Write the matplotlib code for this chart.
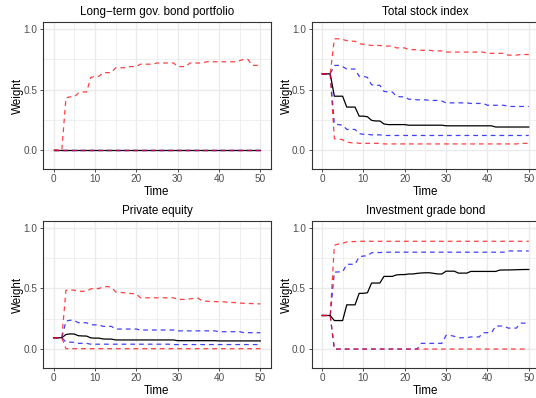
import numpy as np
import matplotlib
matplotlib.use('Agg')
import matplotlib.pyplot as plt

plt.rcParams['font.family'] = ['Liberation Sans', 'DejaVu Sans']

time = np.arange(51)

titles = ['Long\u2212term gov. bond portfolio', 'Total stock index',
          'Private equity', 'Investment grade bond']

# long-term gov. bond portfolio
gov_median = [0.0] * 51
gov_blue_lo = [0.0] * 51
gov_blue_hi = [0.0] * 51
gov_red_lo = [0.0] * 51
gov_red_hi = ([0.0] * 3 + [0.43, 0.44, 0.44] + [0.47, 0.48, 0.48] + [0.60, 0.61, 0.61]
              + [0.64] * 3 + [0.68, 0.68, 0.68, 0.69, 0.69, 0.69]
              + [0.71, 0.71, 0.71, 0.71, 0.72, 0.72, 0.72, 0.72, 0.72] + [0.69] * 3
              + [0.72] * 4 + [0.73] * 8 + [0.74, 0.75, 0.75] + [0.70] * 3)

# total stock index
stock_median = ([0.63] * 3 + [0.445] * 3 + [0.355] * 3 + [0.28, 0.28, 0.275]
                + [0.245, 0.24, 0.24] + [0.215, 0.21, 0.21, 0.21, 0.21, 0.21]
                + [0.205] * 9 + [0.2] * 12 + [0.19] * 9)
stock_blue_hi = ([0.63] * 3 + [0.70, 0.70, 0.69] + [0.67] * 3 + [0.61, 0.61, 0.60]
                 + [0.54, 0.535, 0.535] + [0.485, 0.48, 0.48] + [0.445, 0.44, 0.44]
                 + [0.42, 0.42, 0.415, 0.415, 0.415, 0.41, 0.41, 0.41, 0.405]
                 + [0.39] * 6 + [0.385] * 4 + [0.37] * 5 + [0.36] * 6)
stock_blue_lo = ([0.63] * 3 + [0.215, 0.21, 0.205] + [0.17] * 3
                 + [0.135, 0.13, 0.13, 0.125, 0.125, 0.125] + [0.12] * 36)
stock_red_hi = ([0.63] * 3 + [0.92, 0.92, 0.915] + [0.905, 0.9, 0.9]
                + [0.88, 0.875, 0.87, 0.865, 0.865, 0.865] + [0.86] * 3 + [0.845] * 3
                + [0.83, 0.83, 0.83, 0.825, 0.825, 0.825, 0.82, 0.82, 0.82]
                + [0.81] * 10 + [0.8] * 5 + [0.785] * 3 + [0.79] * 3)
stock_red_lo = ([0.63] * 3 + [0.093, 0.09, 0.085] + [0.065, 0.06, 0.06]
                + [0.055] * 6 + [0.05] * 33 + [0.055] * 3)

# private equity
pe_median = ([0.093] * 3 + [0.12, 0.125, 0.124] + [0.11, 0.108, 0.107]
             + [0.092, 0.09, 0.09] + [0.083, 0.082, 0.082] + [0.075] * 15
             + [0.069] * 10 + [0.067] * 11)
pe_blue_hi = ([0.093] * 3 + [0.23, 0.238, 0.236] + [0.217] * 3 + [0.2] * 3
              + [0.187] * 3 + [0.165] * 6 + [0.157] * 9 + [0.15] * 10
              + [0.143] * 6 + [0.135] * 5)
pe_blue_lo = ([0.093] * 3 + [0.058, 0.057, 0.055] + [0.047] * 3
              + [0.04] * 20 + [0.037] * 22)
pe_red_hi = ([0.093] * 3 + [0.485, 0.488, 0.486] + [0.478, 0.476, 0.478]
             + [0.497, 0.5, 0.5] + [0.514, 0.516, 0.51] + [0.472, 0.468, 0.465]
             + [0.46, 0.458, 0.455] + [0.423] * 9 + [0.41] * 3 + [0.415, 0.418, 0.42]
             + [0.395, 0.395, 0.393, 0.392, 0.39, 0.39, 0.388, 0.385, 0.383]
             + [0.38, 0.378, 0.377, 0.375, 0.374, 0.373])
pe_red_lo = [0.093] * 3 + [0.003] * 48

# investment grade bond
ig_median = ([0.277] * 3 + [0.235] * 3 + [0.365] * 3 + [0.46, 0.46, 0.465]
             + [0.545] * 3 + [0.6] * 3 + [0.612, 0.615, 0.615]
             + [0.62, 0.62, 0.625, 0.628, 0.63, 0.63, 0.625, 0.62, 0.62]
             + [0.643] * 3 + [0.627] * 3 + [0.641] * 7
             + [0.652, 0.653, 0.653, 0.654, 0.655, 0.656, 0.657, 0.657])
ig_blue_hi = ([0.277] * 3 + [0.635, 0.637, 0.637] + [0.7] * 3 + [0.762, 0.768, 0.77]
              + [0.795, 0.797, 0.797] + [0.8] * 30 + [0.81] * 6)
ig_blue_lo = ([0.277] * 3 + [0.0] * 21 + [0.047] * 6 + [0.113, 0.113, 0.105]
              + [0.093] * 3 + [0.1] * 3 + [0.135] * 3 + [0.19] * 3
              + [0.173] * 3 + [0.214] * 3)
ig_red_hi = ([0.277] * 3 + [0.857, 0.868, 0.873] + [0.885, 0.887, 0.888]
             + [0.89] * 42)
ig_red_lo = [0.277] * 3 + [0.0] * 48

medians = [gov_median, stock_median, pe_median, ig_median]
blue_lo = [gov_blue_lo, stock_blue_lo, pe_blue_lo, ig_blue_lo]
blue_hi = [gov_blue_hi, stock_blue_hi, pe_blue_hi, ig_blue_hi]
red_lo = [gov_red_lo, stock_red_lo, pe_red_lo, ig_red_lo]
red_hi = [gov_red_hi, stock_red_hi, pe_red_hi, ig_red_hi]

W, H = 536, 398
fig = plt.figure(figsize=(W / 100, H / 100), dpi=100)

# panel boxes in pixels: left, top, right, bottom
boxes = [(43.2, 22.5, 270.7, 168.7), (311.6, 22.5, 539.1, 168.7),
         (43.2, 221.3, 270.7, 367.8), (311.6, 221.3, 539.1, 367.8)]

grey20 = '#333333'
grey30 = '#4D4D4D'
grey92 = '#EBEBEB'
dash = (0, (3.8, 3.2))

for i in range(4):
    l, t, r, b = boxes[i]
    ax = fig.add_axes([l / W, (H - b) / H, (r - l) / W, (b - t) / H])
    ax.set_xlim(-2.5, 52.5)
    ax.set_ylim(-0.155, 1.055)
    ax.set_xticks([0, 10, 20, 30, 40, 50])
    ax.set_xticks([5, 15, 25, 35, 45], minor=True)
    ax.set_yticks([0.0, 0.5, 1.0])
    ax.set_yticklabels(['0.0', '0.5', '1.0'])
    ax.set_yticks([0.25, 0.75], minor=True)
    ax.grid(which='major', color=grey92, linewidth=1.0)
    ax.grid(which='minor', color=grey92, linewidth=0.55)
    ax.set_axisbelow(True)
    ax.tick_params(which='major', length=2.5, width=0.6, color=grey20,
                   labelsize=7.2, labelcolor=grey30, pad=1.5)
    ax.tick_params(which='minor', length=0)
    for s in ax.spines.values():
        s.set_color(grey20)
        s.set_linewidth(0.8)

    ax.plot(time, medians[i], color='black', linewidth=0.9)
    ax.plot(time, blue_lo[i], color='blue', linewidth=0.9, alpha=0.75, linestyle=dash)
    ax.plot(time, blue_hi[i], color='blue', linewidth=0.9, alpha=0.75, linestyle=dash)
    ax.plot(time, red_lo[i], color='red', linewidth=0.9, alpha=0.75, linestyle=dash)
    ax.plot(time, red_hi[i], color='red', linewidth=0.9, alpha=0.75, linestyle=dash)

    ax.set_title(titles[i], fontsize=8.4, color='black', pad=5.5)
    ax.set_xlabel('Time', fontsize=8.4, labelpad=1)
    ax.set_ylabel('Weight', fontsize=8.4, labelpad=-0.5)

fig.savefig('out.png', dpi=100)
